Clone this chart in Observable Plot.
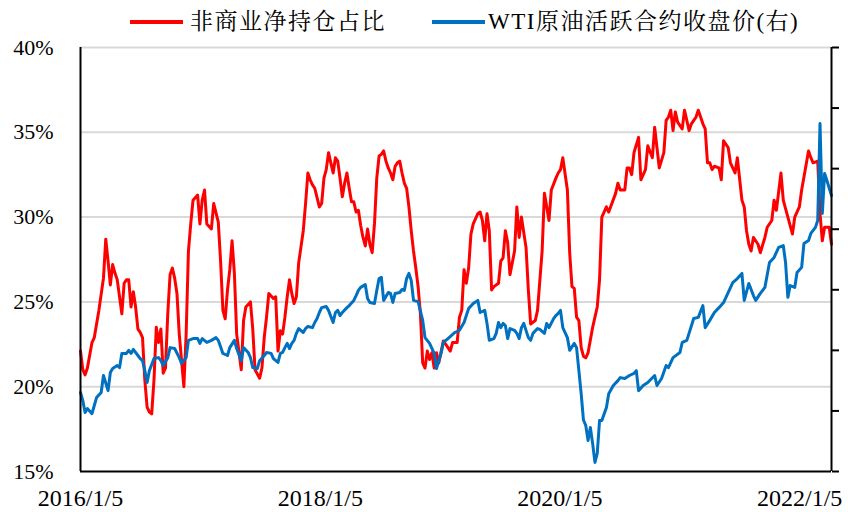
<!DOCTYPE html>
<html>
<head>
<meta charset="utf-8">
<script src="https://cdn.jsdelivr.net/npm/d3@7"></script>
<script src="https://cdn.jsdelivr.net/npm/@observablehq/plot@0.6"></script>
<style>
  html, body { margin: 0; padding: 0; background: #fff; }
  body { width: 848px; height: 512px; overflow: hidden; font-family: "Liberation Serif", "Noto Serif CJK SC", "Noto Sans CJK SC", serif; }
  #legend { position: relative; height: 36px; }
  #legend .sw { position: absolute; top: 20px; height: 4px; width: 53px; }
  #legend .lt { position: absolute; top: 9px; font-size: 23px; line-height: 26px; letter-spacing: 1.5px; color: #000; white-space: nowrap; }
  #chart svg { display: block; }
</style>
</head>
<body>
<div id="legend"></div>
<div id="chart"></div>
<script>
// ---- data ----
const startDate = "2016/1/5";
const endDate = "2022/4/12";
const seriesNames = ["非商业净持仓占比", "WTI原油活跃合约收盘价(右)"];
const seriesColors = ["#FF0000", "#0070C0"];
const pctTicks = [15, 20, 25, 30, 35, 40];
const wtiTicks = [10, 30, 50, 70, 90, 110, 130, 150];
const xTickLabels = ["2016/1/5", "2018/1/5", "2020/1/5", "2022/1/5"];

// [week number since 2016/1/5, net long share %]
const netLongShare = [
[0,22.1],[1,21.0],[2,20.7],[3,21.1],[5,22.6],[6,22.9],[8,24.5],[10,26.4],[11,28.7],[12,27.4],[13,26.0],[14,27.2],[15,26.7],[16,26.3],[18,24.3],[19,26.1],[20,26.3],[21,26.3],[22,24.7],[23,25.6],[24,24.7],[25,23.4],[26,23.2],[27,22.9],[28,20.4],[29,18.8],[30,18.5],[31,18.4],[32,20.4],[33,23.5],[34,22.6],[35,23.4],[36,20.8],[37,21.1],[38,24.3],[39,26.6],[40,27.0],[41,26.4],[42,25.5],[43,23.1],[45,20.0],[46,23.1],[47,28.0],[48,29.6],[49,31.0],[51,31.3],[52,29.6],[53,31.0],[54,31.6],[55,29.6],[57,29.3],[58,30.8],[60,29.7],[61,27.4],[62,24.5],[63,24.0],[64,25.7],[65,26.9],[66,28.6],[67,26.7],[68,23.1],[70,21.0],[71,23.9],[72,24.7],[74,25.0],[75,23.4],[76,21.0],
[78,20.5],[79,21.1],[80,22.9],[81,24.1],[82,25.5],[84,25.2],[85,25.3],[86,22.1],[87,23.3],[88,23.1],[89,24.1],[90,25.3],[91,26.3],[92,25.5],[93,24.9],[94,25.3],[95,27.3],[97,29.2],[98,30.8],[99,32.6],[100,32.2],[101,31.9],[102,31.7],[104,30.6],[105,30.8],[106,32.3],[107,32.8],[108,33.8],[109,33.2],[110,32.6],[111,33.5],[112,33.3],[113,32.3],[114,31.2],[115,32.0],[116,32.6],[117,31.7],[118,30.9],[119,30.9],[120,30.3],[121,30.4],[122,29.5],[123,28.8],[124,28.3],[125,29.3],[126,28.4],[127,27.9],[128,29.6],[129,32.3],[130,33.6],[131,33.7],[132,33.9],[133,33.3],[134,32.9],[135,32.6],[136,32.2],[137,33.0],[138,33.2],[139,33.3],[140,32.6],[141,32.0],[142,31.7],[143,30.6],[144,29.2],[145,28.0],[146,27.0],[147,25.9],[148,24.3],[149,21.4],[150,21.1],[151,22.1],[152,21.6],[153,22.0],[154,21.1],[155,22.0],[156,21.4],[158,22.7],[160,22.3],[161,22.1],[162,22.6],[164,22.6],[165,24.1],[166,24.5],[167,26.9],[168,26.1],[169,27.0],[170,29.0],[171,29.6],[173,30.2],[174,30.3],[175,29.8],[176,28.6],[177,30.2],[178,29.2],[179,25.7],[180,25.9],[182,26.1],[183,27.4],[184,27.6],[185,29.2],[186,28.5],[187,26.6],[189,28.0],[190,30.6],[191,28.8],[192,30.0],[194,28.2],[195,25.7],[196,23.7],[198,23.9],[199,24.5],[201,28.0],[202,31.4],[204,29.8],[205,31.6],[207,32.3],[208,32.6],[209,32.8],[210,33.5],[212,31.6],[213,27.9],[214,25.9],[215,25.8],[216,24.1],[217,23.9],[218,22.3],[219,21.8],[220,21.7],[221,22.0],[223,23.5],[225,24.7],[226,26.3],[227,30.0],[229,30.6],[230,30.3],
[233,31.4],[234,32.0],[235,31.6],[237,31.6],[238,32.9],[239,32.9],[240,32.5],[241,33.8],[243,34.7],[244,32.2],[246,32.8],[247,34.2],[249,33.5],[250,35.3],[252,32.9],[254,33.8],[255,35.7],[256,35.9],[257,36.3],[258,35.1],[259,36.2],[260,35.6],[262,35.2],[263,36.3],[265,35.1],[266,35.5],[268,35.9],[269,36.3],[271,35.5],[272,35.2],[273,33.2],[274,33.2],[275,32.8],[276,33.0],[278,32.9],[279,32.2],[280,34.5],[282,34.1],[283,33.2],[285,32.6],[286,33.5],[288,31.0],[289,30.6],[290,29.2],[291,28.4],[292,28.0],[293,28.8],[295,28.4],[296,27.9],[298,28.8],[299,29.4],[301,29.8],[302,31.0],[303,30.4],[305,32.6],[306,31.0],[308,30.0],[310,29.0],[311,30.0],[313,30.6],[314,31.6],[317,33.9],[318,33.5],[319,33.2],[321,33.3],[322,30.2],[323,28.6],[324,29.4],[326,29.4],[327,28.4]
];

// [week number since 2016/1/5, WTI close USD/bbl] (right axis)
const wtiClose = [
[0,36.1],[1,33.4],[2,29.5],[3,30.8],[5,29.1],[6,31.8],[7,34.4],[9,36.1],[10,41.7],[12,36.7],[13,42.7],[14,44.0],[16,45.0],[17,44.3],[18,49.0],[20,49.0],[21,50.0],[22,49.0],[23,50.3],[25,48.3],[26,47.3],[27,46.6],[28,43.3],[29,39.4],[30,43.3],[32,47.3],[34,47.6],[35,46.6],[36,45.0],[38,47.6],[39,50.9],[41,50.6],[43,47.6],[44,45.7],[46,47.6],[47,53.3],[49,53.9],[51,53.9],[52,52.3],[53,53.9],[55,52.6],[57,53.3],[59,54.2],[60,53.3],[62,49.0],[64,48.3],[65,50.9],[67,53.3],[68,50.6],[70,46.6],[71,50.9],[73,49.3],[74,47.6],[75,44.3],[77,44.0],[78,46.6],[80,48.3],[81,49.3],[83,49.0],[84,47.3],[86,46.0],[87,49.0],[88,49.3],[89,50.9],[90,52.3],[91,50.6],[92,52.3],[93,53.3],[94,55.6],[95,57.2],[97,55.9],[98,57.2],[99,57.9],[101,57.5],[102,59.2],[103,60.5],[104,62.5],[105,64.1],[107,64.5],[108,63.2],[110,59.2],[111,62.5],[112,63.2],[113,61.5],[114,62.5],[116,64.1],[117,64.8],[119,66.5],[120,68.1],[121,69.8],[122,70.8],[124,71.7],[125,67.1],[126,65.8],[128,65.5],[129,69.8],[130,73.7],[131,74.1],[132,66.5],[134,69.1],[135,68.8],[136,65.8],[137,68.8],[139,69.1],[140,70.1],[141,69.8],[142,73.7],[143,75.4],[144,73.1],[145,66.5],[147,66.1],[149,59.9],[150,54.2],[152,52.3],[154,49.0],[155,44.0],[156,46.6],[157,49.0],[158,52.6],[160,53.9],[163,55.9],[165,56.6],[167,59.2],[169,63.8],[171,65.5],[173,66.5],[174,62.5],[176,63.2],[177,58.9],[178,53.3],[180,53.9],[181,55.6],[182,59.2],[183,57.5],[184,58.9],[185,58.2],[186,53.9],[187,57.2],[189,56.6],[190,55.6],[191,53.9],[192,57.5],[193,58.9],[195,54.2],[196,53.3],[197,55.6],[199,57.2],[200,56.9],[202,55.6],[203,58.9],[204,57.5],[206,60.5],[207,61.5],[208,62.2],[209,63.2],[210,57.5],[212,54.2],[213,50.0],[215,52.3],[216,50.9],[217,43.3],[218,35.7],[219,27.0],[220,25.2],[221,20.2],[222,24.5],[223,19.2],[224,13.0],[225,16.0],[226,26.8],[227,26.8],[229,31.1],[230,35.7],[232,38.4],[234,40.0],[235,41.0],[237,40.7],[239,41.7],[241,42.4],[242,43.3],[243,36.7],[245,38.4],[247,39.4],[250,41.7],[251,38.4],[253,40.7],[255,45.0],[256,44.3],[258,47.6],[261,49.3],[262,52.6],[264,53.3],[267,60.5],[269,60.9],[271,64.8],[272,57.5],[274,59.9],[276,62.5],[278,64.1],[280,65.8],[282,69.1],[284,72.4],[286,73.7],[288,75.4],[289,66.5],[291,72.1],[293,68.1],[294,66.5],[296,68.8],[298,70.8],[300,79.0],[302,80.7],[304,84.0],[306,84.6],[307,79.0],[308,67.5],[309,71.4],[311,70.8],[312,75.7],[314,77.4],[315,85.3],[317,86.3],[318,88.6],[320,90.6],[321,92.9],[322,124.9],[323,95.2],[324,108.4],[325,106.1],[327,101.1]
];

// ---- build ----
const parse = d3.utcParse("%Y/%m/%d");
const fmt = d3.utcFormat("%Y/%-m/%-d");
const start = parse(startDate);
const end = parse(endDate);
const weekDate = w => d3.utcDay.offset(start, 7 * w);
const pctDomain = [pctTicks[0], pctTicks[pctTicks.length - 1]];
const wtiDomain = [wtiTicks[0], wtiTicks[wtiTicks.length - 1]];
const wtiToPct = v => pctDomain[0] + (v - wtiDomain[0]) * (pctDomain[1] - pctDomain[0]) / (wtiDomain[1] - wtiDomain[0]);

const redData = netLongShare.map(([w, v]) => ({date: weekDate(w), value: v}));
const blueData = wtiClose.map(([w, v]) => ({date: weekDate(w), value: v}));
const xTicks = xTickLabels.map(parse);

// legend
const legend = document.getElementById("legend");
const legendPos = [[130, 190], [432, 488]];
seriesNames.forEach((name, i) => {
  const sw = document.createElement("span");
  sw.className = "sw";
  sw.style.left = legendPos[i][0] + "px";
  sw.style.background = seriesColors[i];
  legend.appendChild(sw);
  const t = document.createElement("span");
  t.className = "lt";
  t.style.left = legendPos[i][1] + "px";
  t.textContent = name;
  legend.appendChild(t);
});

const chart = Plot.plot({
  width: 848,
  height: 476,
  marginTop: 11,
  marginBottom: 41,
  marginLeft: 80,
  marginRight: 17,
  style: {fontFamily: '"Liberation Serif", "Noto Serif CJK SC", "Noto Sans CJK SC", serif', fontSize: "22px", color: "#000", background: "#fff"},
  x: {type: "utc", domain: [start, end]},
  y: {domain: pctDomain},
  marks: [
    Plot.ruleY(pctTicks.slice(1), {stroke: "#d9d9d9", strokeWidth: 2}),
    Plot.axisY({ticks: pctTicks, tickFormat: d => d + "%", tickSize: 0, tickPadding: 27, fontSize: 22, label: null}),
    Plot.axisY({anchor: "right", ticks: wtiTicks.map(wtiToPct), tickFormat: () => "", tickSize: 7, strokeWidth: 2, label: null}),
    Plot.axisX({ticks: xTicks, tickFormat: fmt, tickSize: 0, tickPadding: 17, fontSize: 24, label: null}),
    Plot.line(redData, {x: "date", y: "value", stroke: seriesColors[0], strokeWidth: 3}),
    Plot.line(blueData, {x: "date", y: d => wtiToPct(d.value), stroke: seriesColors[1], strokeWidth: 3}),
    Plot.ruleX([start], {stroke: "#000", strokeWidth: 2}),
    Plot.ruleX([end], {stroke: "#000", strokeWidth: 2}),
    Plot.ruleY([pctDomain[0]], {stroke: "#000", strokeWidth: 2})
  ]
});
document.getElementById("chart").appendChild(chart);
</script>
</body>
</html>
